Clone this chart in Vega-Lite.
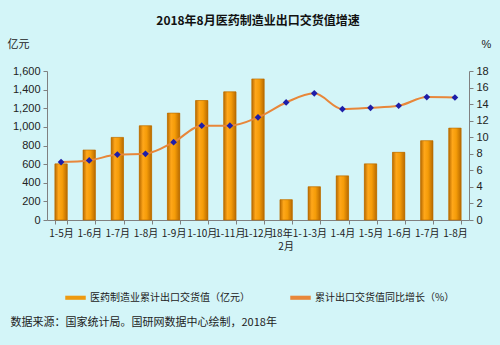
{
  "$schema": "https://vega.github.io/schema/vega-lite/v6.json",
  "width": 422,
  "height": 149,
  "autosize": {"type": "none"},
  "padding": {"left": 47, "top": 71, "right": 31, "bottom": 125},
  "background": "#D3F5F8",
  "title": {
    "text": "2018年8月医药制造业出口交货值增速",
    "font": "Noto Sans CJK SC",
    "fontSize": 12,
    "fontWeight": "bold",
    "color": "#111111",
    "anchor": "middle",
    "offset": 10
  },
  "data": {
    "values": [
      {"period": "1-5月", "value": 603, "growth": 7.0},
      {"period": "1-6月", "value": 752, "growth": 7.2},
      {"period": "1-7月", "value": 887, "growth": 7.9},
      {"period": "1-8月", "value": 1012, "growth": 8.0},
      {"period": "1-9月", "value": 1148, "growth": 9.4},
      {"period": "1-10月", "value": 1283, "growth": 11.4},
      {"period": "1-11月", "value": 1376, "growth": 11.4},
      {"period": "1-12月", "value": 1515, "growth": 12.4},
      {"period": "18年1-", "value": 218, "growth": 14.2},
      {"period": "1-3月", "value": 357, "growth": 15.3},
      {"period": "1-4月", "value": 474, "growth": 13.4},
      {"period": "1-5月\u200b", "value": 603, "growth": 13.55},
      {"period": "1-6月\u200b", "value": 727, "growth": 13.8},
      {"period": "1-7月\u200b", "value": 852, "growth": 14.85},
      {"period": "1-8月\u200b", "value": 987, "growth": 14.8}
    ]
  },
  "layer": [
    {
      "mark": {"type": "bar"},
      "encoding": {
        "x": {
          "field": "period",
          "type": "nominal",
          "sort": null,
          "scale": {"paddingInner": 0.56, "paddingOuter": 0.28},
          "axis": {
            "title": "数据来源：国家统计局。国研网数据中心绘制，2018年",
            "titleFont": "Noto Sans CJK SC",
            "titleFontSize": 11,
            "titleFontWeight": "normal",
            "titleColor": "#222222",
            "titleAnchor": "start",
            "titleAlign": "left",
            "titleBaseline": "middle",
            "titleX": -37,
            "titleY": 102,
            "labelAngle": 0,
            "labelFont": "Noto Sans CJK SC",
            "labelFontSize": 10,
            "labelColor": "#222222",
            "labelPadding": 4,
            "domainColor": "#808080",
            "tickColor": "#808080",
            "tickBand": "extent",
            "tickSize": 4,
            "labelOverlap": false
          }
        },
        "y": {
          "field": "value",
          "type": "quantitative",
          "scale": {"domain": [0, 1600]},
          "axis": {
            "title": "亿元",
            "titleAngle": 0,
            "titleAlign": "left",
            "titleBaseline": "middle",
            "titleX": -40,
            "titleY": -27,
            "titleFont": "Noto Sans CJK SC",
            "titleFontSize": 11,
            "titleFontWeight": "normal",
            "titleColor": "#222222",
            "values": [0, 200, 400, 600, 800, 1000, 1200, 1400, 1600],
            "format": ",d",
            "grid": false,
            "labelFont": "Liberation Sans",
            "labelFontSize": 11,
            "labelColor": "#222222",
            "domainColor": "#808080",
            "tickColor": "#808080",
            "tickSize": 4,
            "labelPadding": 3
          }
        },
        "color": {
          "datum": "医药制造业累计出口交货值（亿元）",
          "type": "nominal",
          "scale": {
            "domain": ["医药制造业累计出口交货值（亿元）", "累计出口交货值同比增长（%）"],
            "range": ["#EE9A10", "#E8873A"]
          },
          "legend": {
            "title": null,
            "orient": "none",
            "legendX": 18,
            "legendY": 216,
            "direction": "horizontal",
            "columnPadding": 40,
            "symbolType": "M-1,-0.2H1V0.2H-1Z",
            "symbolSize": 420,
            "symbolStrokeWidth": 0,
            "labelFont": "Noto Sans CJK SC",
            "labelFontSize": 10,
            "labelColor": "#222222"
          }
        }
      }
    },
    {
      "mark": {
        "type": "bar",
        "stroke": "#B56A00",
        "strokeWidth": 0.6,
        "color": {
          "gradient": "linear",
          "x1": 0, "x2": 1, "y1": 0, "y2": 0,
          "stops": [
            {"offset": 0, "color": "#B86A00"},
            {"offset": 0.3, "color": "#FFA71A"},
            {"offset": 0.6, "color": "#F59C08"},
            {"offset": 1, "color": "#B86A00"}
          ]
        }
      },
      "encoding": {
        "x": {"field": "period", "type": "nominal", "sort": null},
        "y": {"field": "value", "type": "quantitative", "scale": {"domain": [0, 1600]}, "axis": null}
      }
    },
    {
      "transform": [{"filter": "datum.period == '18年1-'"}],
      "mark": {"type": "text", "text": "2月", "font": "Noto Sans CJK SC", "fontSize": 10, "color": "#222222", "baseline": "middle"},
      "encoding": {
        "x": {"field": "period", "type": "nominal", "sort": null},
        "y": {"datum": -290, "type": "quantitative", "scale": {"domain": [0, 1600]}, "axis": null}
      }
    },
    {
      "mark": {"type": "line", "interpolate": "monotone", "strokeWidth": 2},
      "encoding": {
        "x": {"field": "period", "type": "nominal", "sort": null},
        "y": {
          "field": "growth",
          "type": "quantitative",
          "scale": {"domain": [0, 18]},
          "axis": {
            "orient": "right",
            "title": "%",
            "titleAngle": 0,
            "titleAlign": "left",
            "titleBaseline": "middle",
            "titleX": 12,
            "titleY": -27,
            "titleFont": "Liberation Sans",
            "titleFontSize": 11,
            "titleFontWeight": "normal",
            "titleColor": "#222222",
            "values": [0, 2, 4, 6, 8, 10, 12, 14, 16, 18],
            "format": "d",
            "grid": false,
            "labelFont": "Liberation Sans",
            "labelFontSize": 11,
            "labelColor": "#222222",
            "domainColor": "#808080",
            "tickColor": "#808080",
            "tickSize": 4,
            "labelPadding": 3
          }
        },
        "color": {"datum": "累计出口交货值同比增长（%）", "type": "nominal"}
      }
    },
    {
      "mark": {"type": "point", "shape": "diamond", "filled": true, "color": "#1E1EA8", "size": 45, "opacity": 1},
      "encoding": {
        "x": {"field": "period", "type": "nominal", "sort": null},
        "y": {"field": "growth", "type": "quantitative", "scale": {"domain": [0, 18]}, "axis": null}
      }
    }
  ],
  "resolve": {"scale": {"y": "independent"}},
  "config": {
    "view": {"stroke": null}
  }
}
